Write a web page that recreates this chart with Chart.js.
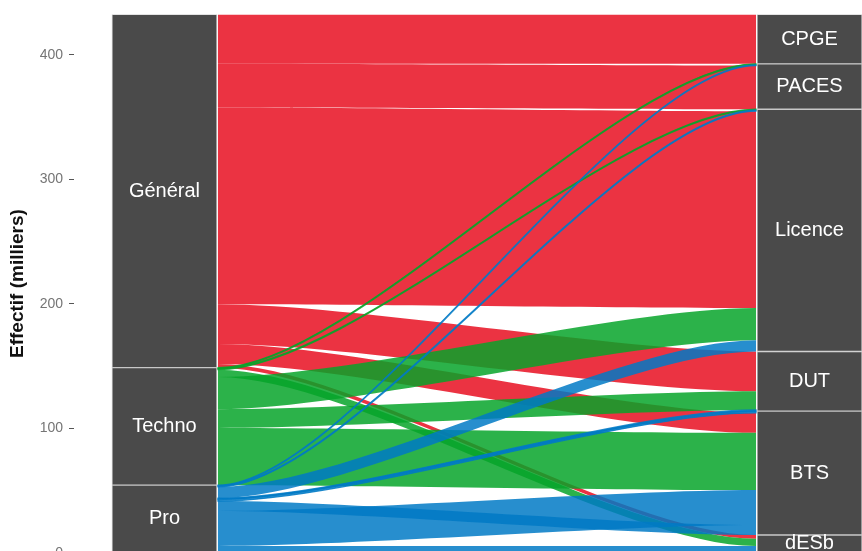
<!DOCTYPE html>
<html><head><meta charset="utf-8">
<script src="https://cdn.jsdelivr.net/npm/chart.js@4"></script>
<style>
html,body{margin:0;padding:0;background:#fff;overflow:hidden}
#wrap{width:862px;height:551px;overflow:hidden;position:relative}
canvas{display:block}
</style></head><body>
<div id="wrap"><canvas id="c" width="862" height="600"></canvas></div>
<script>
// ---- data ----
const leftStrata = ['Général', 'Techno', 'Pro'];
const rightStrata = ['CPGE', 'PACES', 'Licence', 'DUT', 'BTS', 'dESb'];
const flowFrom = ['Général','Général','Général','Général','Général','Général',
                  'Techno','Techno','Techno','Techno','Techno','Techno',
                  'Pro','Pro','Pro','Pro','Pro','Pro','Pro','Pro'];
const flowTo   = ['CPGE','PACES','Licence','DUT','BTS','dESb',
                  'PACES','Licence','dESb','Licence','DUT','BTS',
                  'PACES','Licence','Licence','DUT','BTS','BTS','BTS','dESb'];
const flowValue = [39.7, 35.1, 158.1, 32, 16, 3,
                   0.8, 0.8, 5.8, 26, 15, 46,
                   0.6, 0.8, 9, 0.9, 1.5, 8, 28.1, 5.4];
const flowLeftOrder  = [0,1,2,3,4,5, 0,1,2,3,4,5, 0,1,2,3,4,5,6,7];
const flowRightOrder = [0,2,2,0,1,0, 0,0,1,3,1,2, 1,1,4,2,0,4,3,2];
const yTicks = [0, 100, 200, 300, 400];
const yTitle = 'Effectif (milliers)';

// ---- layout / style constants ----
const X_LEFT = 0.1148, X_RIGHT = 0.9334, BOX_W = 105;
const BOX_FILL = '#4a4a4a', BOX_LINE = '#c8c8c8';
const FONT = '"Liberation Sans", Arial, sans-serif';
const flowColors = {
  'Général': 'rgba(231,15,33,0.85)',
  'Techno':  'rgba(7,165,42,0.85)',
  'Pro':     'rgba(1,122,198,0.85)'
};

// ---- derived stacks ----
function sumBy(key, arr){ let s=0; flowValue.forEach((v,i)=>{ if(arr[i]===key) s+=v; }); return s; }
const total = flowValue.reduce((a,b)=>a+b,0);
function stack(strata, keyArr){
  const res = {}; let top = total;
  strata.forEach(s=>{ const v = sumBy(s,keyArr); res[s] = [top - v, top]; top -= v; });
  return res;
}
const leftStack = stack(leftStrata, flowFrom);
const rightStack = stack(rightStrata, flowTo);
function flowPositions(strataStack, keyArr, orderArr){
  const pos = new Array(flowValue.length);
  Object.keys(strataStack).forEach(s=>{
    const idx = flowValue.map((v,i)=>i).filter(i=>keyArr[i]===s).sort((a,b)=>orderArr[a]-orderArr[b]);
    let top = strataStack[s][1];
    idx.forEach(i=>{ pos[i] = [top, top - flowValue[i]]; top -= flowValue[i]; });
  });
  return pos;
}
const leftPos = flowPositions(leftStack, flowFrom, flowLeftOrder);
const rightPos = flowPositions(rightStack, flowTo, flowRightOrder);

const flowPlugin = {
  id: 'flows',
  beforeDatasetsDraw(chart){
    const ctx = chart.ctx, y = chart.scales.y;
    const lm = chart.getDatasetMeta(0).data[0], rm = chart.getDatasetMeta(1).data[0];
    const x0 = lm.x + lm.width/2 + 1, x1 = rm.x - rm.width/2 - 1;
    const c0 = x0 + (x1-x0)*0.25, c1 = x1 - (x1-x0)*0.25;
    ctx.save();
    ctx.beginPath(); ctx.rect(chart.chartArea.left, chart.chartArea.top, chart.chartArea.width, chart.chartArea.height); ctx.clip();
    flowValue.forEach((v,i)=>{
      const a0 = y.getPixelForValue(leftPos[i][0]), a1 = y.getPixelForValue(leftPos[i][1]);
      const b0 = y.getPixelForValue(rightPos[i][0]), b1 = y.getPixelForValue(rightPos[i][1]);
      ctx.beginPath();
      ctx.moveTo(x0, a0);
      ctx.bezierCurveTo(c0, a0, c1, b0, x1, b0);
      ctx.lineTo(x1, b1);
      ctx.bezierCurveTo(c1, b1, c0, a1, x0, a1);
      ctx.closePath();
      ctx.fillStyle = flowColors[flowFrom[i]];
      ctx.fill();
      if (v < 2){ ctx.strokeStyle = flowColors[flowFrom[i]]; ctx.lineWidth = 1.3; ctx.stroke(); }
    });
    ctx.restore();
  },
  afterDatasetsDraw(chart){
    const ctx = chart.ctx;
    ctx.save();
    ctx.fillStyle = '#ffffff';
    ctx.font = '20px ' + FONT;
    ctx.textAlign = 'center'; ctx.textBaseline = 'middle';
    [leftStrata, rightStrata].forEach((names, d)=>{
      chart.getDatasetMeta(d).data.forEach((el,i)=>{
        ctx.fillText(names[i], el.x, (el.y + el.base)/2);
      });
    });
    ctx.restore();
  }
};

const barStyle = { grouped: false, barThickness: BOX_W, backgroundColor: BOX_FILL,
  borderColor: BOX_LINE, borderWidth: 1, borderSkipped: false };

new Chart(document.getElementById('c'), {
  type: 'bar',
  data: {
    datasets: [
      Object.assign({ label: 'left', data: leftStrata.map(s=>({x: X_LEFT, y: leftStack[s]})) }, barStyle),
      Object.assign({ label: 'right', data: rightStrata.map(s=>({x: X_RIGHT, y: rightStack[s]})) }, barStyle)
    ]
  },
  options: {
    responsive: false, animation: false,
    layout: { padding: { top: 13, bottom: 47.3, left: 0, right: 0 } },
    plugins: { legend: { display: false }, tooltip: { enabled: false } },
    scales: {
      x: { type: 'linear', min: 0, max: 1, offset: false, display: false },
      y: { type: 'linear', min: 0, max: 432.6,
        afterFit(s){ s.width = 74; },
        afterBuildTicks(s){ s.ticks = yTicks.map(v=>({value:v})); },
        ticks: { color: '#757575', font: { size: 14, family: FONT }, padding: 6 },
        grid: { display: true, drawOnChartArea: false, drawTicks: true, tickLength: 5, tickColor: '#555' },
        border: { display: false },
        title: { display: true, text: yTitle, color: '#111',
          font: { size: 19, weight: 'bold', family: FONT }, padding: { top: 6, bottom: 0 } }
      }
    }
  },
  plugins: [flowPlugin]
});
</script>
</body></html>
